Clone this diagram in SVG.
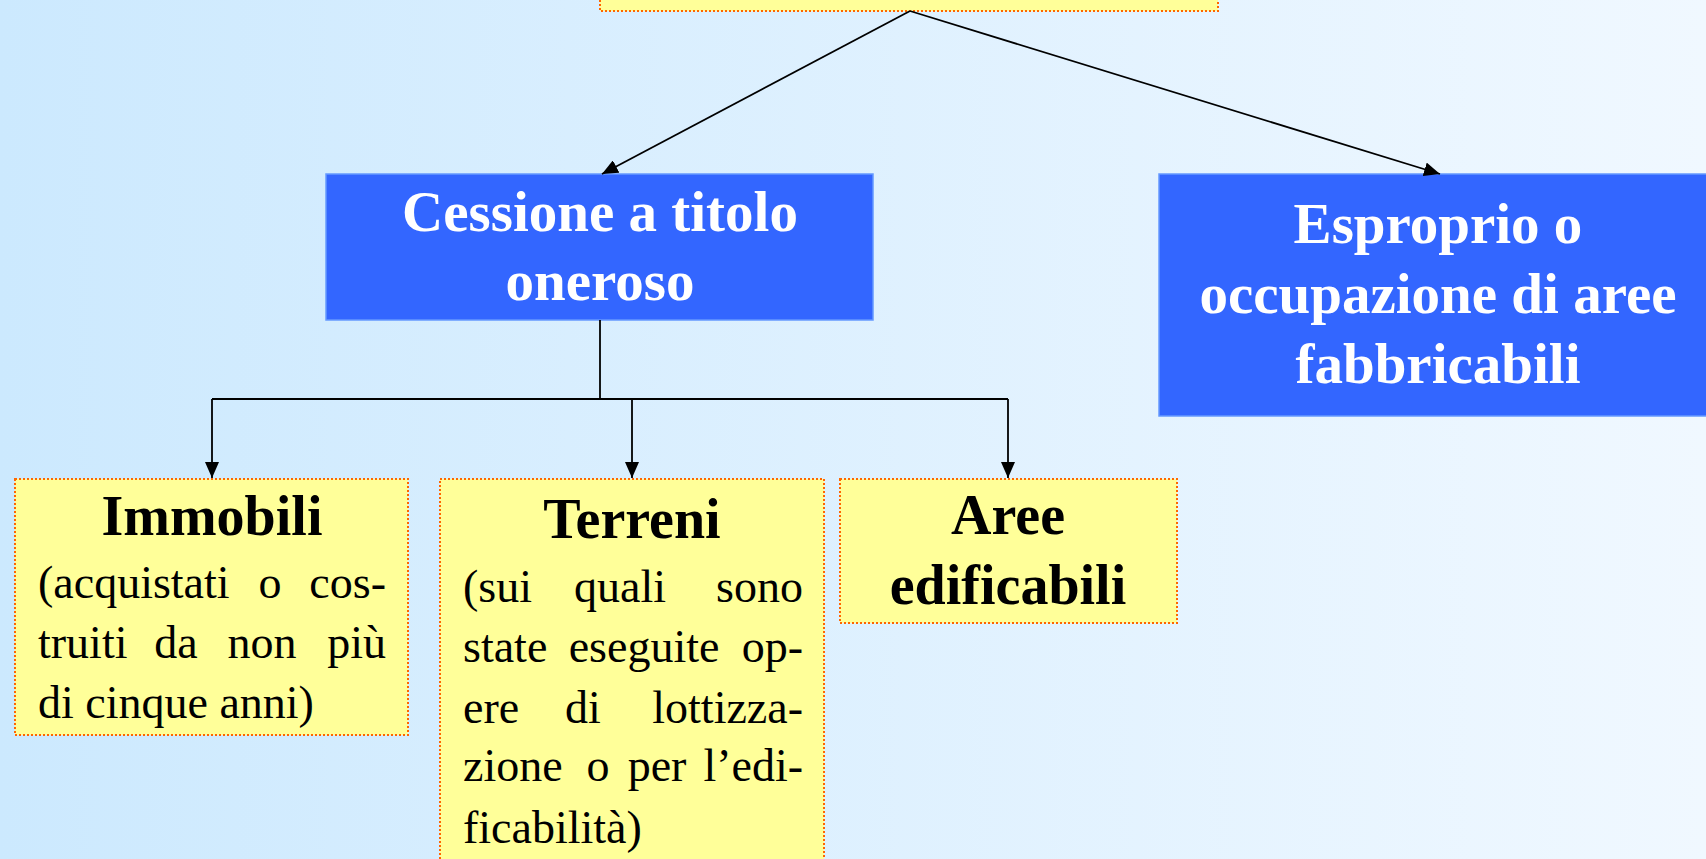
<svg xmlns="http://www.w3.org/2000/svg" width="1706" height="859" viewBox="0 0 1706 859">
<defs>
<linearGradient id="bg" x1="0" y1="0" x2="1" y2="0">
<stop offset="0" stop-color="#CCE9FE"/>
<stop offset="1" stop-color="#F0F8FF"/>
</linearGradient>
<marker id="arrB" viewBox="0 0 16 14" refX="16" refY="7" markerWidth="16" markerHeight="14" markerUnits="userSpaceOnUse" orient="auto">
<path d="M0,0 L16,7 L0,14 Z" fill="#000"/>
</marker>
<style>
.blue{fill:#3366FF;stroke:#6699FF;stroke-width:1.5}
.yel{fill:#FFFF99;stroke:#FF6600;stroke-width:2;stroke-dasharray:2 2}
.wt{font-family:"Liberation Serif",serif;font-weight:bold;font-size:57px;fill:#FFFFFF;text-anchor:middle}
.bt{font-family:"Liberation Serif",serif;font-weight:bold;font-size:56px;fill:#000;text-anchor:middle}
.rt{font-family:"Liberation Serif",serif;font-size:46px;fill:#000}
.e{text-anchor:end}
.m{text-anchor:middle}
.ln{fill:none;stroke:#000;stroke-width:1.8}
</style>
</defs>
<rect x="0" y="0" width="1706" height="859" fill="url(#bg)"/>

<g id="top">
<rect class="yel" x="600" y="-20" width="618" height="31"/>
</g>

<g id="cessione">
<rect class="blue" x="326" y="174" width="547" height="146"/>
<text class="wt" x="600" y="231">Cessione a titolo</text>
<text class="wt" x="600" y="300">oneroso</text>
</g>

<g id="esproprio">
<rect class="blue" x="1159" y="174" width="560" height="242"/>
<text class="wt" x="1438" y="243">Esproprio o</text>
<text class="wt" x="1438" y="313">occupazione di aree</text>
<text class="wt" x="1438" y="383">fabbricabili</text>
</g>

<g id="immobili">
<rect class="yel" x="15" y="479" width="393" height="256"/>
<text class="bt" x="212" y="535">Immobili</text>
<text class="rt" y="598"><tspan x="38">(acquistati</tspan><tspan x="270" class="m">o</tspan><tspan x="386" class="e">cos-</tspan></text>
<text class="rt" y="658"><tspan x="38">truiti</tspan><tspan x="176" class="m">da</tspan><tspan x="262" class="m">non</tspan><tspan x="386" class="e">più</tspan></text>
<text class="rt" x="38" y="718">di cinque anni)</text>
</g>

<g id="terreni">
<rect class="yel" x="440" y="479" width="384" height="400"/>
<text class="bt" x="632" y="538">Terreni</text>
<text class="rt" y="602"><tspan x="463">(sui</tspan><tspan x="620" class="m">quali</tspan><tspan x="803" class="e">sono</tspan></text>
<text class="rt" y="662"><tspan x="463">state</tspan><tspan x="644" class="m">eseguite</tspan><tspan x="803" class="e">op-</tspan></text>
<text class="rt" y="723"><tspan x="463">ere</tspan><tspan x="583" class="m">di</tspan><tspan x="803" class="e">lottizza-</tspan></text>
<text class="rt" y="781"><tspan x="463">zione</tspan><tspan x="598" class="m">o</tspan><tspan x="657" class="m">per</tspan><tspan x="803" class="e">l’edi-</tspan></text>
<text class="rt" x="463" y="843">ficabilità)</text>
</g>

<g id="aree">
<rect class="yel" x="840" y="479" width="337" height="144"/>
<text class="bt" x="1008" y="534">Aree</text>
<text class="bt" x="1008" y="604">edificabili</text>
</g>

<g id="connectors">
<line class="ln" x1="910" y1="11" x2="602" y2="174" marker-end="url(#arrB)"/>
<line class="ln" x1="910" y1="11" x2="1440" y2="174" marker-end="url(#arrB)"/>
<polyline class="ln" points="600,320 600,399"/>
<polyline class="ln" points="212,399 1008,399"/>
<line class="ln" x1="212" y1="399" x2="212" y2="478" marker-end="url(#arrB)"/>
<line class="ln" x1="632" y1="399" x2="632" y2="478" marker-end="url(#arrB)"/>
<line class="ln" x1="1008" y1="399" x2="1008" y2="478" marker-end="url(#arrB)"/>
</g>
</svg>
